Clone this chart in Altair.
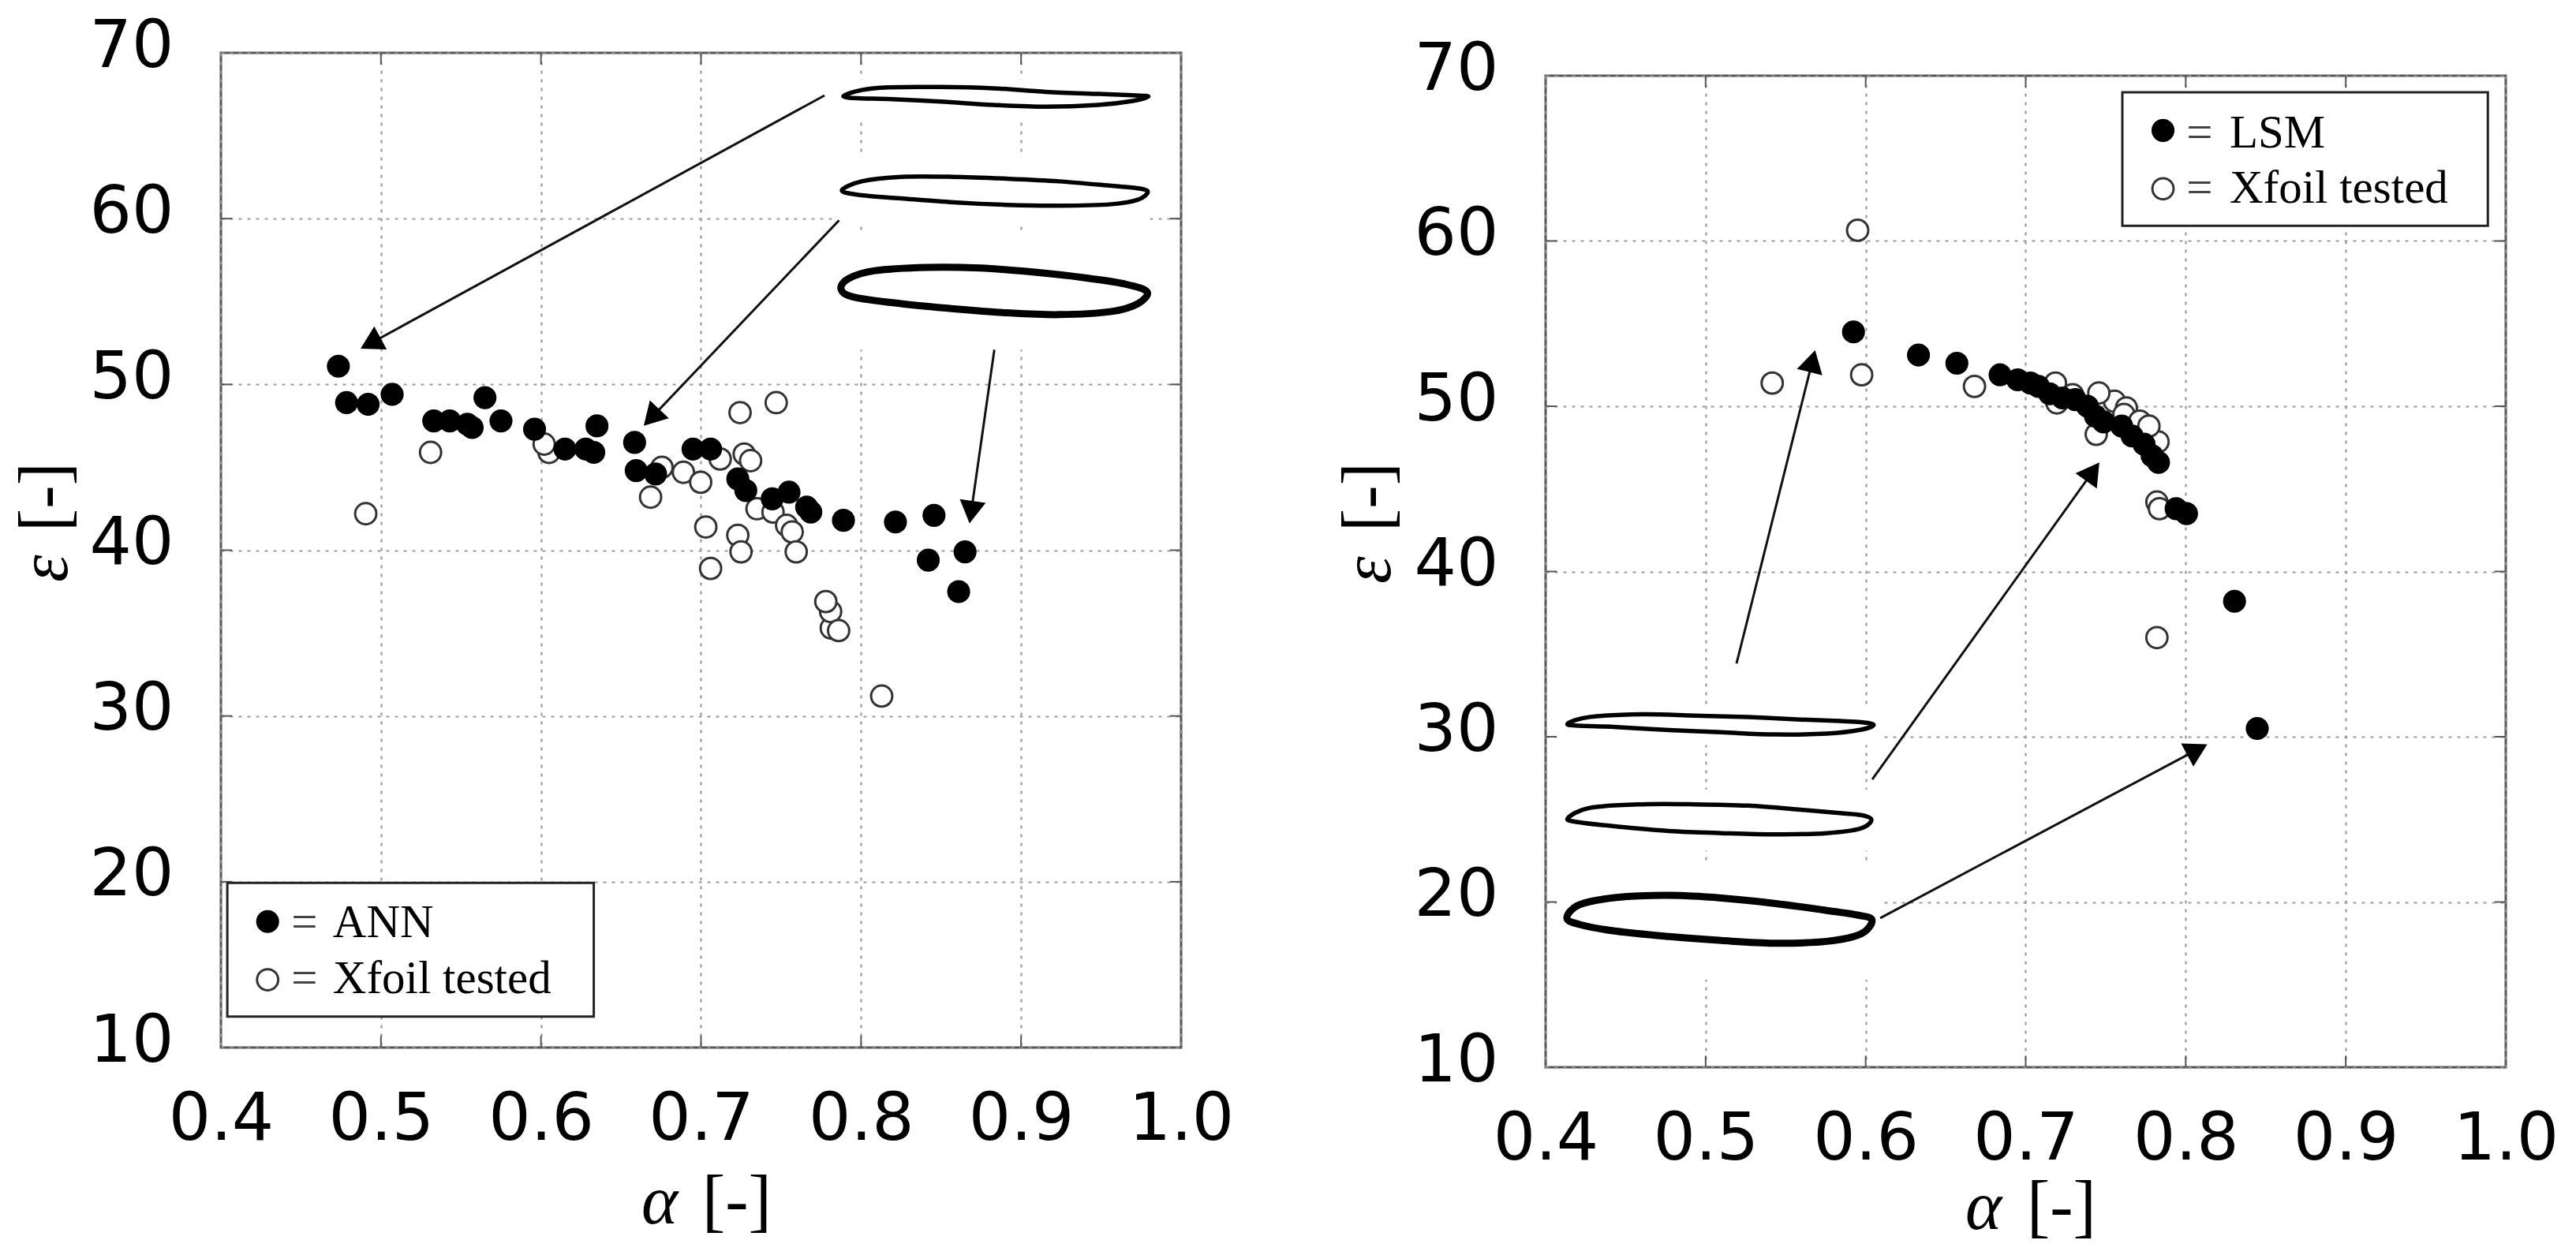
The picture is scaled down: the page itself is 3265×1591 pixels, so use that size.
import altair as alt
import pandas as pd

x_inner = [0.5, 0.6, 0.7, 0.8, 0.9]
y_inner = [20, 30, 40, 50, 60]
x_labels = [0.4, 0.5, 0.6, 0.7, 0.8, 0.9, 1.0]
y_labels = [10, 20, 30, 40, 50, 60, 70]

# left panel, ANN
ann_a = [0.4734, 0.4785, 0.492, 0.507, 0.533, 0.543, 0.554, 0.557, 0.565, 0.575, 0.596, 0.615, 0.628, 0.633, 0.635, 0.6585,
         0.6595, 0.6716, 0.695, 0.706, 0.723, 0.728, 0.7445, 0.755, 0.766, 0.7686, 0.789, 0.8215, 0.8456, 0.842, 0.865, 0.861]
ann_e = [51.1, 48.9, 48.8, 49.4, 47.8, 47.8, 47.6, 47.4, 49.2, 47.8, 47.3, 46.1, 46.1, 45.9, 47.5, 46.5,
         44.8, 44.6, 46.1, 46.1, 44.3, 43.6, 43.1, 43.5, 42.6, 42.3, 41.8, 41.7, 42.1, 39.4, 39.9, 37.5]
xfoil_l_a = [0.4905, 0.531, 0.605, 0.602, 0.6756, 0.6685, 0.689, 0.6998, 0.712, 0.7244, 0.747, 0.727, 0.731, 0.735, 0.745, 0.7535,
             0.757, 0.7595, 0.703, 0.723, 0.725, 0.706, 0.7814, 0.781, 0.778, 0.786, 0.8129]
xfoil_l_e = [42.2, 45.9, 45.9, 46.4, 45.0, 43.2, 44.7, 44.1, 45.5, 48.3, 48.9, 45.8, 45.4, 42.5, 42.3, 41.5,
             41.1, 39.9, 41.4, 40.9, 39.9, 38.9, 35.3, 36.3, 36.9, 35.15, 31.2]

# right panel, LSM
lsm_a = [0.5924, 0.633, 0.657, 0.684, 0.695, 0.703, 0.708, 0.715, 0.723, 0.731, 0.7386, 0.7436, 0.7487, 0.76, 0.7665, 0.774,
         0.779, 0.783, 0.794, 0.8005, 0.8305, 0.8447]
lsm_e = [54.5, 53.1, 52.6, 51.9, 51.6, 51.4, 51.2, 50.75, 50.5, 50.4, 50.0, 49.4, 49.05, 48.8, 48.2, 47.7,
         47.0, 46.6, 43.8, 43.5, 38.2, 30.5]
xfoil_r_a = [0.595, 0.5975, 0.5416, 0.668, 0.7186, 0.7195, 0.7293, 0.7441, 0.7555, 0.7629, 0.7614, 0.7713, 0.7827, 0.777, 0.7457,
             0.782, 0.7836, 0.782]
xfoil_r_e = [60.65, 51.9, 51.4, 51.2, 51.4, 50.2, 50.7, 48.3, 50.3, 49.9, 49.5, 49.1, 47.85, 48.8, 50.8,
             44.2, 43.8, 36.0]

# airfoil outlines, left panel
foil_l1_a = [0.7889, 0.8004, 0.8168, 0.8497, 0.8826, 0.9154, 0.9483, 0.9697, 0.9796, 0.9697, 0.9483, 0.9154, 0.8826, 0.8497, 0.8168, 0.8004]
foil_l1_e = [67.38, 67.76, 67.92, 67.94, 67.86, 67.65, 67.52, 67.44, 67.37, 67.10, 66.86, 66.75, 66.86, 67.06, 67.22, 67.25]
foil_l2_a = [0.7880, 0.8004, 0.8250, 0.8579, 0.8908, 0.9237, 0.9565, 0.9730, 0.9792, 0.9730, 0.9565, 0.9237, 0.8908, 0.8579, 0.8250, 0.8004]
foil_l2_e = [61.70, 62.25, 62.52, 62.52, 62.41, 62.25, 61.98, 61.83, 61.62, 61.14, 60.87, 60.78, 60.83, 60.98, 61.22, 61.41]
foil_l3_a = [0.7875, 0.7921, 0.8086, 0.8415, 0.8743, 0.9072, 0.9401, 0.9648, 0.9787, 0.9730, 0.9565, 0.9237, 0.8908, 0.8579, 0.8250, 0.7954]
foil_l3_e = [55.75, 56.38, 56.86, 57.06, 57.02, 56.78, 56.43, 56.06, 55.59, 54.87, 54.40, 54.21, 54.32, 54.56, 54.87, 55.27]

# airfoil outlines, right panel
foil_r1_a = [0.4138, 0.4277, 0.4606, 0.4935, 0.5264, 0.5593, 0.5839, 0.5971, 0.6050, 0.5971, 0.5757, 0.5428, 0.5099, 0.4771, 0.4442, 0.4212]
foil_r1_e = [30.79, 31.20, 31.36, 31.28, 31.19, 31.04, 30.95, 30.88, 30.72, 30.43, 30.19, 30.14, 30.27, 30.40, 30.59, 30.67]
foil_r2_a = [0.4138, 0.4277, 0.4606, 0.4935, 0.5264, 0.5593, 0.5839, 0.5971, 0.6036, 0.5971, 0.5757, 0.5428, 0.5099, 0.4771, 0.4442, 0.4212]
foil_r2_e = [25.06, 25.70, 25.91, 25.91, 25.83, 25.59, 25.38, 25.26, 24.98, 24.46, 24.17, 24.09, 24.17, 24.30, 24.57, 24.82]
foil_r3_a = [0.4133, 0.4212, 0.4442, 0.4771, 0.5099, 0.5428, 0.5757, 0.5954, 0.6040, 0.5971, 0.5757, 0.5428, 0.5099, 0.4771, 0.4442, 0.4212]
foil_r3_e = [19.04, 19.84, 20.27, 20.40, 20.24, 19.92, 19.49, 19.20, 18.91, 18.07, 17.62, 17.51, 17.67, 17.91, 18.23, 18.64]

# white boxes round the airfoils (they hide the grid in the original)
box_l = {"a": [0.783] * 3, "a2": [0.98] * 3, "e": [68.4, 63.7, 59.3], "e2": [65.9, 59.8, 52.1]}
box_r = {"a": [0.407] * 3, "a2": [0.609] * 3, "e": [31.9, 26.8, 22.4], "e2": [29.5, 23.1, 15.3]}

# arrows: start, head centre, head angle
arrow_l = {"a": [0.7772, 0.7863, 0.8833], "e": [67.43, 59.9, 52.09], "a2": [0.4935, 0.6691, 0.8688],
           "e2": [52.48, 48.0, 42.29], "ang": [241.4, 223.5, 188.2]}
arrow_r = {"a": [0.5193, 0.6041, 0.6091], "e": [34.43, 27.42, 19.03], "a2": [0.5667, 0.7419, 0.8072],
           "e2": [52.73, 46.04, 29.22], "ang": [14.1, 35.6, 62.0]}

legend_l = {"box": [0.404, 0.633, 19.93, 11.87], "a": 0.4292, "e": [17.6, 14.09], "eq": 0.4440, "ta": 0.4699, "te": [16.65, 13.3],
            "txt": ["ANN", "Xfoil tested"]}
legend_r = {"box": [0.7604, 0.9888, 69.0, 60.92], "a": 0.7858, "e": [66.69, 63.16], "eq": 0.8005, "ta": 0.8274, "te": [65.67, 62.31],
            "txt": ["LSM", "Xfoil tested"]}

INK = "#000000"
SANS = "DejaVu Sans"
SERIF = "Liberation Serif"
PT = 850
X = alt.Scale(domain=[0.4, 1.0], nice=False, zero=False)
Y = alt.Scale(domain=[10, 70], nice=False, zero=False)
grid = {"grid": True, "gridColor": "#9a9a9a", "gridDash": [4, 7], "gridWidth": 2.2, "domain": False, "ticks": False,
        "labelFont": SANS, "labelFontSize": 84, "labelColor": INK, "title": None}
AX = alt.Axis(values=x_labels, format=".1f", labelPadding=50, labelFlush=False, **grid)
AY = alt.Axis(values=y_labels, format="d", labelPadding=60, labelOffset=-8, **grid)


def xe(a="a", e="e"):
    return dict(x=alt.X(f"{a}:Q", scale=X, axis=AX), y=alt.Y(f"{e}:Q", scale=Y, axis=AY))


def panel(filled, hollow, foils, box, arrow, legend, h, title_pos, eps_pos):
    layers = []

    # inward ticks
    t_b = pd.DataFrame({"a": x_inner, "e": [10] * 5, "e2": [10.7] * 5})
    t_t = pd.DataFrame({"a": x_inner, "e": [70] * 5, "e2": [69.3] * 5})
    t_l = pd.DataFrame({"e": y_inner, "a": [0.4] * 5, "a2": [0.407] * 5})
    t_r = pd.DataFrame({"e": y_inner, "a": [1.0] * 5, "a2": [0.993] * 5})
    for t in (t_b, t_t):
        layers.append(alt.Chart(t).mark_rule(color="#555555", strokeWidth=2).encode(y2="e2:Q", **xe()))
    for t in (t_l, t_r):
        layers.append(alt.Chart(t).mark_rule(color="#555555", strokeWidth=2).encode(x2="a2:Q", **xe()))

    layers.append(alt.Chart(pd.DataFrame(box)).mark_rect(color="white").encode(x2="a2:Q", y2="e2:Q", **xe()))

    for foil_a, values, width in foils:
        d = pd.DataFrame({"a": foil_a, "e": values, "i": range(len(values))})
        layers.append(alt.Chart(d).mark_line(interpolate="cardinal-closed", color=INK, strokeWidth=width).encode(
            order="i:Q", **xe()))

    d = pd.DataFrame({"a": hollow[0], "e": hollow[1]})
    layers.append(alt.Chart(d).mark_point(fill="white", stroke="#333333", strokeWidth=3, size=PT - 130, opacity=1).encode(**xe()))
    d = pd.DataFrame({"a": filled[0], "e": filled[1]})
    layers.append(alt.Chart(d).mark_point(filled=True, color=INK, size=PT, opacity=1).encode(**xe()))

    # arrows
    d = pd.DataFrame(arrow)
    layers.append(alt.Chart(d).mark_rule(color="#111111", strokeWidth=3).encode(x2="a2:Q", y2="e2:Q", **xe()))
    layers.append(alt.Chart(d).mark_point(shape="triangle-up", filled=True, color=INK, size=1100, opacity=1).encode(
        angle=alt.Angle("ang:Q", scale=None), **xe("a2", "e2")))

    # legend box
    b = legend["box"]
    lg = pd.DataFrame({"a": [b[0]], "a2": [b[1]], "e": [b[2]], "e2": [b[3]]})
    layers.append(alt.Chart(lg).mark_rect(fill="white", stroke="#222222", strokeWidth=3).encode(x2="a2:Q", y2="e2:Q", **xe()))
    layers.append(alt.Chart(pd.DataFrame({"a": [legend["a"]], "e": [legend["e"][0]]})).mark_point(
        filled=True, color=INK, size=PT, opacity=1).encode(**xe()))
    layers.append(alt.Chart(pd.DataFrame({"a": [legend["a"]], "e": [legend["e"][1]]})).mark_point(
        fill="white", stroke="#333333", strokeWidth=3, size=PT - 130, opacity=1).encode(**xe()))
    tx = pd.DataFrame({"a": [legend["ta"]] * 2, "e": legend["te"], "t": legend["txt"]})
    layers.append(alt.Chart(tx).mark_text(font=SERIF, fontSize=59, align="left", baseline="alphabetic", color=INK).encode(
        text="t:N", **xe()))
    tx = pd.DataFrame({"a": [legend["eq"]] * 2, "e": legend["te"], "t": ["=", "="]})
    layers.append(alt.Chart(tx).mark_text(font=SERIF, fontSize=59, align="left", baseline="alphabetic", color="#444444").encode(
        text="t:N", **xe()))

    # axis titles, the greek letter is italic and the rest is not
    one = pd.DataFrame({"n": [0]})
    def label(txt, x, y, italic, angle=0):
        return alt.Chart(one).mark_text(text=txt, font=SERIF, fontSize=88, fontStyle="italic" if italic else "normal",
                                        align="left", baseline="alphabetic", angle=angle, color=INK).encode(
            x=alt.value(x), y=alt.value(y))
    layers.append(label("α", title_pos[0], title_pos[2], True))
    layers.append(label("[-]", title_pos[1], title_pos[2], False))
    layers.append(label("ε", eps_pos[0], eps_pos[1], True, 270))
    layers.append(label("[-]", eps_pos[0], eps_pos[2], False, 270))

    return alt.layer(*layers).properties(width=1217, height=h)


left = panel((ann_a, ann_e), (xfoil_l_a, xfoil_l_e),
             [(foil_l1_a, foil_l1_e, 5.5), (foil_l2_a, foil_l2_e, 5.5), (foil_l3_a, foil_l3_e, 9)],
             box_l, arrow_l, legend_l, 1261, (533, 610, 1484), (-195, 671, 607))
right = panel((lsm_a, lsm_e), (xfoil_r_a, xfoil_r_e),
              [(foil_r1_a, foil_r1_e, 5.5), (foil_r2_a, foil_r2_e, 5.5), (foil_r3_a, foil_r3_e, 9)],
              box_r, arrow_r, legend_r, 1257, (532, 610, 1462), (-197, 644, 578))

# empty spacer, the right panel sits a bit lower
spacer = alt.Chart(pd.DataFrame({"n": [0]})).mark_point(opacity=0).encode(
    x=alt.value(0), y=alt.value(0)).properties(width=10, height=7, view=alt.ViewConfig(stroke=None))

chart = alt.hconcat(left, alt.vconcat(spacer, right, spacing=-30), spacing=124,
                    padding={"left": 5, "top": 7, "right": 0, "bottom": 0}).configure_view(
    stroke="#555555", strokeWidth=3)

chart.save("out.html", embed_options={"renderer": "svg", "actions": False})
